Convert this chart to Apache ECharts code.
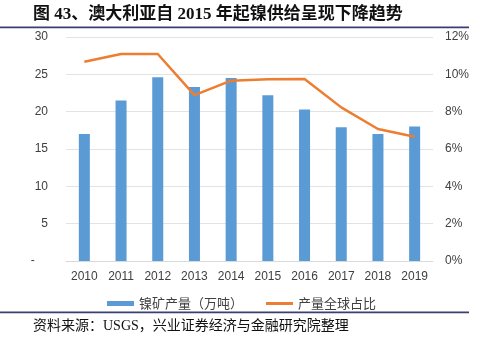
<!DOCTYPE html>
<html><head><meta charset="utf-8">
<script src="https://cdn.jsdelivr.net/npm/echarts@6/dist/echarts.min.js"></script>
<style>html,body{margin:0;padding:0;background:#fff}#c{width:483px;height:343px}</style>
</head><body><div id="c"></div>
<script>
const categories = ['2010','2011','2012','2013','2014','2015','2016','2017','2018','2019'];
const nickelOutput = [17.0, 21.5, 24.6, 23.3, 24.5, 22.2, 20.3, 17.9, 17.0, 18.0];
const globalShare = [10.67, 11.09, 11.09, 8.89, 9.66, 9.73, 9.75, 8.23, 7.07, 6.66];
const seriesNames = ['镍矿产量（万吨）', '产量全球占比'];
const titleText = '图 43、澳大利亚自 2015 年起镍供给呈现下降趋势';
const sourceText = '资料来源：USGS，兴业证券经济与金融研究院整理';

const chart = echarts.init(document.getElementById('c'), null, {renderer: 'canvas'});
const axisFont = {fontFamily: 'Liberation Sans, Arial, sans-serif', fontSize: 12, color: '#404040'};
chart.setOption({
  animation: false,
  grid: {left: 66, right: 50, top: 37, bottom: 82},
  legend: {
    bottom: 28, left: 'center', itemGap: 23, itemWidth: 27, itemHeight: 5,
    textStyle: {fontFamily: 'Noto Sans CJK SC', fontSize: 13, color: '#404040'},
    data: [
      {name: seriesNames[0], icon: 'rect'},
      {name: seriesNames[1], icon: 'path://M0,0H27V3H0Z'}
    ]
  },
  xAxis: {
    type: 'category', data: categories,
    axisLine: {show: true, lineStyle: {color: '#D9D9D9'}},
    axisTick: {show: false},
    axisLabel: Object.assign({margin: 10}, axisFont)
  },
  yAxis: [{
    type: 'value', min: 0, max: 30, interval: 5,
    axisLine: {show: false}, axisTick: {show: false},
    splitLine: {lineStyle: {color: '#E3E3E3'}},
    axisLabel: Object.assign({margin: 18, formatter: v => v === 0 ? '-    ' : String(v)}, axisFont)
  }, {
    type: 'value', min: 0, max: 12, interval: 2,
    axisLine: {show: false}, axisTick: {show: false}, splitLine: {show: false},
    axisLabel: Object.assign({margin: 12, formatter: '{value}%'}, axisFont)
  }],
  series: [{
    name: seriesNames[0], type: 'bar', data: nickelOutput, barWidth: '30%',
    itemStyle: {color: '#5B9BD5'}
  }, {
    name: seriesNames[1], type: 'line', yAxisIndex: 1, data: globalShare,
    symbol: 'none', lineStyle: {color: '#ED7D31', width: 2.5}, itemStyle: {color: '#ED7D31'}
  }],
  graphic: [
    {type: 'text', left: 33, top: 6, style: {text: titleText, font: 'bold 17px "Liberation Serif", "Noto Sans CJK SC"', fill: '#111'}},
    {type: 'rect', shape: {x: 0, y: 26.5, width: 469, height: 1.8}, style: {fill: '#3B3F70'}},
    {type: 'rect', shape: {x: 0, y: 311.5, width: 469, height: 1.8}, style: {fill: '#3B3F70'}},
    {type: 'text', left: 33, top: 319, style: {text: sourceText, font: '14px "Liberation Serif", "Noto Sans CJK SC"', fill: '#111'}}
  ]
});
</script></body></html>
